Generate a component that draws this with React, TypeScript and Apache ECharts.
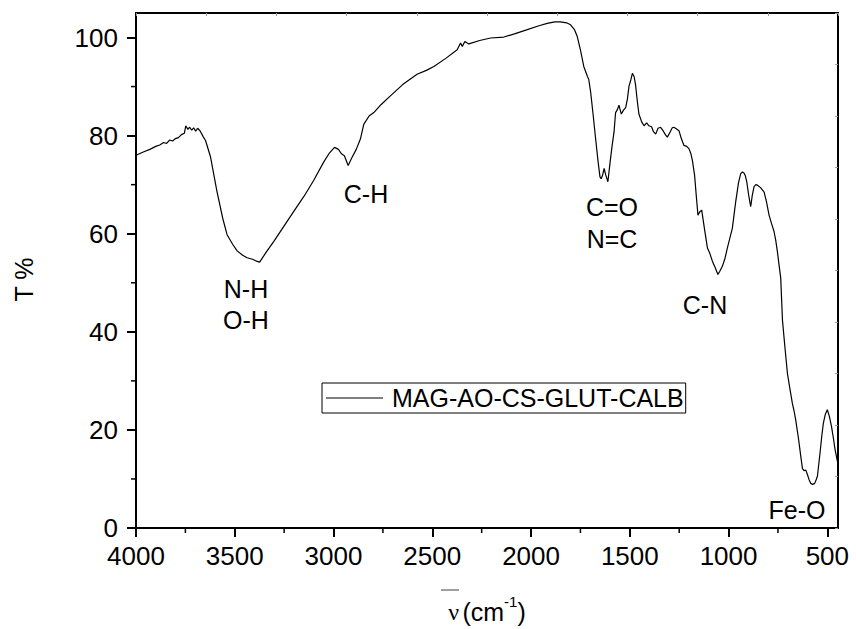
import { useEffect, useRef } from "react";
import * as echarts from "echarts";

const wavenumbers = [
  4000, 3960, 3930, 3900, 3880, 3860, 3845, 3830, 3815, 3800, 3785, 3770, 3755, 3748, 3738, 3728, 3718, 3708, 3698, 3688,
  3676, 3660, 3648, 3623, 3590, 3560, 3539, 3510, 3488, 3460, 3438, 3410, 3390, 3374, 3340, 3303, 3250, 3202, 3150, 3100,
  3050, 3020, 2995, 2975, 2960, 2945, 2926, 2906, 2885, 2864, 2847, 2820, 2796, 2760, 2712, 2650, 2577, 2530, 2492, 2430,
  2374, 2357, 2348, 2335, 2315, 2260, 2205, 2138, 2080, 2019, 1960, 1918, 1880, 1851, 1820, 1800, 1780, 1766, 1750, 1733,
  1715, 1708, 1698, 1685, 1673, 1660, 1651, 1645, 1638, 1630, 1622, 1611, 1600, 1590, 1580, 1572, 1563, 1555, 1543, 1532,
  1521, 1512, 1504, 1494, 1487, 1478, 1471, 1462, 1454, 1440, 1428, 1415, 1403, 1390, 1380, 1369, 1357, 1344, 1330, 1320,
  1310, 1295, 1285, 1277, 1265, 1251, 1240, 1226, 1212, 1200, 1190, 1183, 1172, 1163, 1155, 1145, 1136, 1122, 1107, 1095,
  1082, 1068, 1054, 1045, 1031, 1018, 1006, 981, 964, 950, 939, 930, 922, 915, 908, 898, 888, 880, 871, 862,
  854, 838, 820, 808, 795, 782, 770, 761, 753, 745, 736, 727, 715, 702, 690, 677, 668, 660, 647, 634,
  626, 618, 609, 600, 593, 584, 574, 564, 557, 550, 537, 528, 520, 510, 500, 490, 479, 470, 462, 455, 449,
];

const transmittance = [
  76.0, 76.7, 77.2, 77.8, 78.1, 78.6, 78.4, 79.1, 78.9, 79.4, 79.6, 80.2, 80.5, 82.0, 81.3, 81.7, 81.1, 81.6, 80.9, 81.5,
  81.0, 79.8, 79.0, 75.7, 68.6, 63.0, 59.8, 57.8, 56.5, 55.6, 55.1, 54.8, 54.4, 54.2, 56.3, 58.4, 61.6, 64.5, 67.6, 70.9,
  74.6, 76.5, 77.6, 77.2, 76.3, 75.9, 73.9, 75.6, 77.2, 79.3, 82.3, 84.0, 84.7, 86.3, 88.1, 90.4, 92.5, 93.3, 94.1, 95.8,
  97.5, 98.9, 98.2, 99.2, 98.7, 99.4, 99.9, 100.1, 100.8, 101.6, 102.4, 102.9, 103.2, 103.2, 103.0, 102.6, 101.6, 100.2, 97.5, 94.1,
  92.1, 91.5, 88.8, 84.0, 79.3, 74.5, 71.6, 71.2, 71.9, 73.3, 72.0, 70.6, 74.5, 77.8, 80.7, 84.7, 85.3, 86.2, 84.4, 85.2,
  85.7, 87.5, 90.1, 91.5, 92.7, 92.0, 90.4, 87.0, 84.4, 82.8, 82.0, 82.6, 82.0, 81.8, 80.8, 80.3, 81.5, 81.7, 80.9, 80.2,
  79.7, 80.8, 81.6, 81.7, 81.4, 81.0, 79.5, 78.0, 77.8, 77.3, 76.2, 74.9, 71.9, 67.5, 63.8, 64.5, 64.8, 61.0, 57.1, 56.0,
  54.4, 53.1, 51.7, 52.3, 53.4, 55.0, 57.1, 61.1, 66.5, 70.3, 72.2, 72.6, 72.4, 71.8, 70.6, 67.8, 65.5, 67.8, 69.6, 70.0,
  69.9, 69.4, 68.5, 66.5, 63.8, 62.0, 60.5, 58.6, 56.4, 53.8, 51.0, 42.3, 37.0, 31.5, 28.5, 25.4, 23.8, 22.0, 18.5, 14.5,
  12.1, 11.7, 11.8, 10.8, 9.9, 9.1, 8.9, 9.1, 9.8, 10.6, 15.3, 18.8, 21.4, 23.2, 24.1, 22.8, 20.7, 18.5, 16.3, 14.8, 13.6,
];

const xMajorTicks = [4000, 3500, 3000, 2500, 2000, 1500, 1000, 500];
const xMinorTicks = [3750, 3250, 2750, 2250, 1750, 1250, 750];
const yMajorTicks = [0, 20, 40, 60, 80, 100];
const yMinorTicks = [10, 30, 50, 70, 90];

const seriesName = "MAG-AO-CS-GLUT-CALB";
const bandLabels = ["C-H", "N-H", "O-H", "C=O", "N=C", "C-N", "Fe-O"];

const X_MIN = 446;
const X_MAX = 4000;
const Y_MIN = 0;
const Y_MAX = 105;

const FONT = "Liberation Sans, Arial, sans-serif";

export default function App() {
  const ref = useRef<HTMLDivElement>(null);

  useEffect(() => {
    document.body.style.margin = "0";
    if (!ref.current) return;
    const chart = echarts.init(ref.current, null, { renderer: "svg" });

    const data = wavenumbers.map((w, i) => [w, transmittance[i]]);
    const labelPos = [
      [366, 194],
      [246, 289],
      [246, 320],
      [612, 207],
      [612, 239],
      [705, 305],
      [797, 510],
    ];

    chart.setOption({
      animation: false,
      textStyle: { fontFamily: FONT, color: "#000" },
      grid: { left: 136, right: 18, top: 13, bottom: 97, containLabel: false },
      legend: {
        left: 322,
        top: 383,
        orient: "horizontal",
        data: [seriesName],
        icon: "rect",
        itemWidth: 57,
        itemHeight: 1.2,
        itemStyle: { color: "#000" },
        borderColor: "#000",
        borderWidth: 1,
        padding: [2, 2, 2, 4],
        textStyle: { fontSize: 25, color: "#000", fontFamily: FONT, padding: [0, 0, 0, 4], lineHeight: 26 },
      },
      xAxis: [
        {
          type: "value",
          min: X_MIN,
          max: X_MAX,
          inverse: true,
          position: "bottom",
          splitLine: { show: false },
          axisLine: { show: true, onZero: false, lineStyle: { color: "#000", width: 2 } },
          axisTick: {
            show: true,
            inside: false,
            length: 9,
            lineStyle: { color: "#000", width: 2 },
            customValues: xMajorTicks,
          },
          axisLabel: {
            show: true,
            fontSize: 26,
            color: "#000",
            margin: 15,
            fontFamily: FONT,
            customValues: xMajorTicks,
            formatter: (v: number) => String(v),
          },
          name: "{nu|ν} {t|(cm}{sup|-1}{t|)}",
          nameLocation: "middle",
          nameGap: 66,
          nameTextStyle: {
            color: "#000",
            rich: {
              nu: { fontFamily: "Liberation Serif, serif", fontSize: 24, lineHeight: 30, verticalAlign: "bottom" },
              t: { fontFamily: FONT, fontSize: 25, lineHeight: 30, verticalAlign: "bottom" },
              sup: { fontFamily: FONT, fontSize: 15, lineHeight: 30, verticalAlign: "top" },
            },
          },
        },
        {
          type: "value",
          min: 0,
          max: 10,
          interval: 1,
          position: "top",
          splitLine: { show: false },
          axisLine: { show: true, onZero: false, lineStyle: { color: "#000", width: 2 } },
          axisTick: { show: true, inside: true, length: 3, lineStyle: { color: "#999", width: 1 } },
          axisLabel: { show: false },
        },
      ],
      yAxis: [
        {
          type: "value",
          min: Y_MIN,
          max: Y_MAX,
          position: "left",
          splitLine: { show: false },
          axisLine: { show: true, onZero: false, lineStyle: { color: "#000", width: 2 } },
          axisTick: {
            show: true,
            inside: false,
            length: 9,
            lineStyle: { color: "#000", width: 2 },
            customValues: yMajorTicks,
          },
          axisLabel: {
            show: true,
            fontSize: 26,
            color: "#000",
            margin: 18,
            fontFamily: FONT,
            customValues: yMajorTicks,
            formatter: (v: number) => String(v),
          },
          name: "T %",
          nameLocation: "middle",
          nameGap: 100,
          nameTextStyle: { fontSize: 25, color: "#000", fontFamily: FONT, padding: [0, 18, 0, 0] },
        },
        {
          type: "value",
          min: 0,
          max: 10,
          interval: 1,
          position: "right",
          splitLine: { show: false },
          axisLine: { show: true, onZero: false, lineStyle: { color: "#000", width: 2 } },
          axisTick: { show: true, inside: true, length: 3, lineStyle: { color: "#999", width: 1 } },
          axisLabel: { show: false },
        },
      ],
      series: [
        {
          name: seriesName,
          type: "line",
          xAxisIndex: 0,
          yAxisIndex: 0,
          data,
          showSymbol: false,
          symbol: "none",
          smooth: false,
          lineStyle: { color: "#000", width: 1.2 },
          itemStyle: { color: "#000" },
        },
      ],
    });

    // Minor ticks placed through the chart's own scales
    const toPx = (pt: number[]) => chart.convertToPixel({ seriesIndex: 0 }, pt) as number[];
    const minorTicks: any[] = [];
    xMinorTicks.forEach((v) => {
      const p = toPx([v, Y_MIN]);
      minorTicks.push({
        type: "rect",
        shape: { x: p[0] - 0.75, y: p[1], width: 1.5, height: 5 },
        style: { fill: "#000" },
      });
    });
    yMinorTicks.forEach((v) => {
      const p = toPx([X_MAX, v]);
      minorTicks.push({
        type: "rect",
        shape: { x: p[0] - 5, y: p[1] - 0.75, width: 5, height: 1.5 },
        style: { fill: "#000" },
      });
    });

    chart.setOption({
      graphic: [
        ...bandLabels.map((t, i) => ({
          type: "text",
          x: labelPos[i][0],
          y: labelPos[i][1],
          style: { text: t, fontSize: 25, fontFamily: FONT, fill: "#000", align: "center", verticalAlign: "middle" },
        })),
        {
          type: "line",
          shape: { x1: 441, y1: 590, x2: 459, y2: 590 },
          style: { stroke: "#808080", lineWidth: 1.5 },
        },
        ...minorTicks,
      ],
    });

    return () => chart.dispose();
  }, []);

  return <div ref={ref} style={{ width: 856, height: 629 }} />;
}
